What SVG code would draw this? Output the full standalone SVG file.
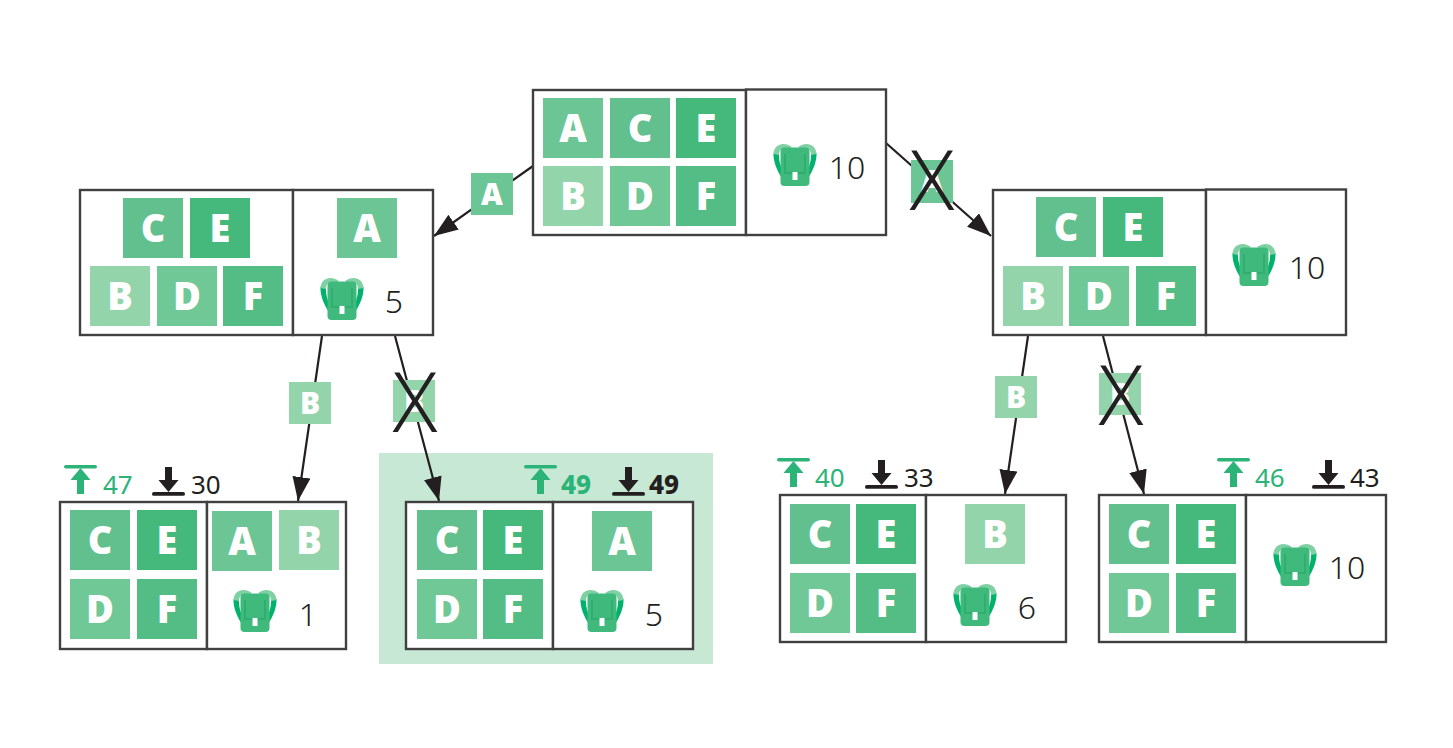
<svg xmlns="http://www.w3.org/2000/svg" xmlns:xlink="http://www.w3.org/1999/xlink" width="1453" height="748" viewBox="0 0 1453 748">
<style>
text{font-family:"Noto Sans","Open Sans","Liberation Sans",sans-serif}
.box{fill:#fff;stroke:#404040;stroke-width:2.4}
.l{font-size:38px;font-weight:900;fill:#fff;text-anchor:middle}
.s{font-size:30px}
.n{font-size:32px;font-weight:350;fill:#231f20;text-anchor:middle}
.u{font-size:26px;font-weight:400;fill:#2cb378}
.d{font-size:26px;font-weight:400;fill:#231f20}
.ub{font-weight:800}
.x{font-size:82px;font-weight:300;fill:#231f20;text-anchor:middle}
.edge{stroke:#231f20;stroke-width:2.2;fill:none;marker-end:url(#arrow)}
.a{fill:#6cc595}.b{fill:#93d4aa}.c{fill:#62c08e}.dd{fill:#70c897}.e{fill:#45b97c}.f{fill:#54bd85}
</style>
<defs>
<marker id="arrow" markerUnits="userSpaceOnUse" markerWidth="26" markerHeight="20" refX="24" refY="9" orient="auto"><path d="M0,0 L24,9 L0,18 Z" fill="#231f20"/></marker>
<g id="pack">
<path d="M0.500,10 C0,18 4,28 9,35 L11,30 C7.500,24 5.500,17 6,10 Z" fill="#00b26b"/>
<path d="M43.500,10 C44,18 40,28 35,35 L33,30 C36.500,24 38.500,17 38,10 Z" fill="#00b26b"/>
<path d="M0.500,11 C1,1 11,-2 19,4 L13,7 C9,4 6,7 6,12 Z" fill="#7fd0a3"/>
<path d="M43.500,11 C43,1 33,-2 25,4 L31,7 C35,4 38,7 38,12 Z" fill="#7fd0a3"/>
<rect x="7.500" y="4.500" width="29" height="38.500" rx="4" fill="#3fb97c"/>
<path d="M12,11 V30 H32 V11" fill="none" stroke="#2fae6f" stroke-width="2"/>
<rect x="19.500" y="29" width="5" height="8" fill="#fff"/>
</g>
<g id="up"><rect x="0" y="0" width="33" height="3.600" rx="1.800" fill="#2cb378"/><path d="M16.500,3 L26.500,15 H20 V29 H13 V15 H6.500 Z" fill="#2cb378"/></g>
<g id="down"><rect x="0" y="25" width="33" height="3.800" rx="1.900" fill="#231f20"/><path d="M13,0 H20 V13 H26.500 L16.500,25 L6.500,13 H13 Z" fill="#231f20"/></g>
</defs>
<rect x="379" y="453" width="334" height="211" fill="#c7e8d5"/>
<g id="connectors">
<line class="edge" x1="533" y1="166" x2="434" y2="236"/>
<line class="edge" x1="886" y1="143" x2="991" y2="236"/>
<line class="edge" x1="322" y1="336" x2="298" y2="501"/>
<line class="edge" x1="395" y1="336" x2="439" y2="501"/>
<line class="edge" x1="1028" y1="336" x2="1005" y2="494"/>
<line class="edge" x1="1103" y1="336" x2="1144" y2="494"/>
</g>
<g id="edge-labels">
<rect class="a" x="471" y="173" width="42" height="42"/><text class="l s" x="492" y="205">A</text>
<rect class="a" x="911" y="160" width="42" height="43"/><text class="l s" x="932" y="192">A</text><text class="x" x="932" y="210">X</text>
<rect class="b" x="289" y="382" width="42" height="42"/><text class="l s" x="310" y="414">B</text>
<rect class="b" x="393" y="380" width="42" height="42"/><text class="l s" x="414" y="412">B</text><text class="x" x="415" y="432">X</text>
<rect class="b" x="995" y="376" width="42" height="42"/><text class="l s" x="1016" y="408">B</text>
<rect class="b" x="1099" y="373" width="42" height="42"/><text class="l s" x="1120" y="405">B</text><text class="x" x="1121" y="425">X</text>
</g>
<g id="root">
<rect class="box" x="533" y="90" width="213" height="145"/><rect class="box" x="746" y="89.500" width="140" height="145.500"/>
<rect class="a" x="543" y="98" width="60" height="60"/><text class="l" x="573" y="142">A</text>
<rect class="c" x="610" y="98" width="60" height="60"/><text class="l" x="640" y="142">C</text>
<rect class="e" x="676" y="98" width="60" height="60"/><text class="l" x="706" y="142">E</text>
<rect class="b" x="543" y="166" width="60" height="60"/><text class="l" x="573" y="210">B</text>
<rect class="dd" x="610" y="166" width="60" height="60"/><text class="l" x="640" y="210">D</text>
<rect class="f" x="676" y="166" width="60" height="60"/><text class="l" x="706" y="210">F</text>
<use href="#pack" x="773" y="143"/><text class="n" x="847" y="179">10</text>
</g>
<g id="left">
<rect class="box" x="80" y="190" width="213" height="145"/><rect class="box" x="293" y="190" width="140" height="145"/>
<rect class="c" x="123" y="198" width="60" height="60"/><text class="l" x="153" y="242">C</text>
<rect class="e" x="190" y="198" width="60" height="60"/><text class="l" x="220" y="242">E</text>
<rect class="b" x="90" y="266" width="60" height="60"/><text class="l" x="120" y="310">B</text>
<rect class="dd" x="157" y="266" width="60" height="60"/><text class="l" x="187" y="310">D</text>
<rect class="f" x="223" y="266" width="60" height="60"/><text class="l" x="253" y="310">F</text>
<rect class="a" x="337" y="198" width="60" height="60"/><text class="l" x="367" y="242">A</text>
<use href="#pack" x="320" y="277"/><text class="n" x="394" y="313">5</text>
</g>
<g id="right">
<rect class="box" x="993" y="190" width="213" height="145"/><rect class="box" x="1206" y="189.500" width="140" height="145.500"/>
<rect class="c" x="1036" y="197" width="60" height="60"/><text class="l" x="1066" y="241">C</text>
<rect class="e" x="1103" y="197" width="60" height="60"/><text class="l" x="1133" y="241">E</text>
<rect class="b" x="1003" y="266" width="60" height="60"/><text class="l" x="1033" y="310">B</text>
<rect class="dd" x="1069" y="266" width="60" height="60"/><text class="l" x="1099" y="310">D</text>
<rect class="f" x="1136" y="266" width="60" height="60"/><text class="l" x="1166" y="310">F</text>
<use href="#pack" x="1232" y="243"/><text class="n" x="1307" y="279">10</text>
</g>
<g id="leaf1">
<use href="#up" x="64" y="465"/><text class="u" x="103" y="494">47</text>
<use href="#down" x="152" y="467"/><text class="d" x="191" y="494">30</text>
<rect class="box" x="60" y="502" width="147" height="147"/><rect class="box" x="207" y="502" width="139" height="147"/>
<rect class="c" x="70" y="510" width="60" height="60"/><text class="l" x="100" y="554">C</text>
<rect class="e" x="137" y="510" width="60" height="60"/><text class="l" x="167" y="554">E</text>
<rect class="dd" x="70" y="579" width="60" height="60"/><text class="l" x="100" y="623">D</text>
<rect class="f" x="137" y="579" width="60" height="60"/><text class="l" x="167" y="623">F</text>
<rect class="a" x="212" y="511" width="60" height="60"/><text class="l" x="242" y="555">A</text>
<rect class="b" x="279" y="510" width="60" height="60"/><text class="l" x="309" y="554">B</text>
<use href="#pack" x="233" y="589"/><text class="n" x="308" y="626">1</text>
</g>
<g id="leaf2">
<use href="#up" x="524" y="465"/><text class="u ub" x="561" y="494">49</text>
<use href="#down" x="612" y="467"/><text class="d ub" x="649" y="494">49</text>
<rect class="box" x="406" y="502" width="147" height="147"/><rect class="box" x="553" y="502" width="140" height="147"/>
<rect class="c" x="417" y="510" width="60" height="60"/><text class="l" x="447" y="554">C</text>
<rect class="e" x="483" y="510" width="60" height="60"/><text class="l" x="513" y="554">E</text>
<rect class="dd" x="417" y="579" width="60" height="60"/><text class="l" x="447" y="623">D</text>
<rect class="f" x="483" y="579" width="60" height="60"/><text class="l" x="513" y="623">F</text>
<rect class="a" x="592" y="511" width="60" height="60"/><text class="l" x="622" y="555">A</text>
<use href="#pack" x="580" y="589"/><text class="n" x="654" y="626">5</text>
</g>
<g id="leaf3">
<use href="#up" x="777" y="458"/><text class="u" x="815" y="487">40</text>
<use href="#down" x="865" y="460"/><text class="d" x="904" y="487">33</text>
<rect class="box" x="780" y="495" width="146" height="147"/><rect class="box" x="926" y="495" width="140" height="147"/>
<rect class="c" x="790" y="504" width="60" height="60"/><text class="l" x="820" y="548">C</text>
<rect class="e" x="856" y="504" width="60" height="60"/><text class="l" x="886" y="548">E</text>
<rect class="dd" x="790" y="573" width="60" height="60"/><text class="l" x="820" y="617">D</text>
<rect class="f" x="856" y="573" width="60" height="60"/><text class="l" x="886" y="617">F</text>
<rect class="b" x="965" y="504" width="60" height="60"/><text class="l" x="995" y="548">B</text>
<use href="#pack" x="953" y="583"/><text class="n" x="1027" y="619">6</text>
</g>
<g id="leaf4">
<use href="#up" x="1217" y="458"/><text class="u" x="1255" y="487">46</text>
<use href="#down" x="1312" y="460"/><text class="d" x="1350" y="487">43</text>
<rect class="box" x="1099" y="495" width="147" height="147"/><rect class="box" x="1246" y="495" width="140" height="147"/>
<rect class="c" x="1109" y="504" width="60" height="60"/><text class="l" x="1139" y="548">C</text>
<rect class="e" x="1176" y="504" width="60" height="60"/><text class="l" x="1206" y="548">E</text>
<rect class="dd" x="1109" y="573" width="60" height="60"/><text class="l" x="1139" y="617">D</text>
<rect class="f" x="1176" y="573" width="60" height="60"/><text class="l" x="1206" y="617">F</text>
<use href="#pack" x="1273" y="543"/><text class="n" x="1347" y="579">10</text>
</g>
</svg>
